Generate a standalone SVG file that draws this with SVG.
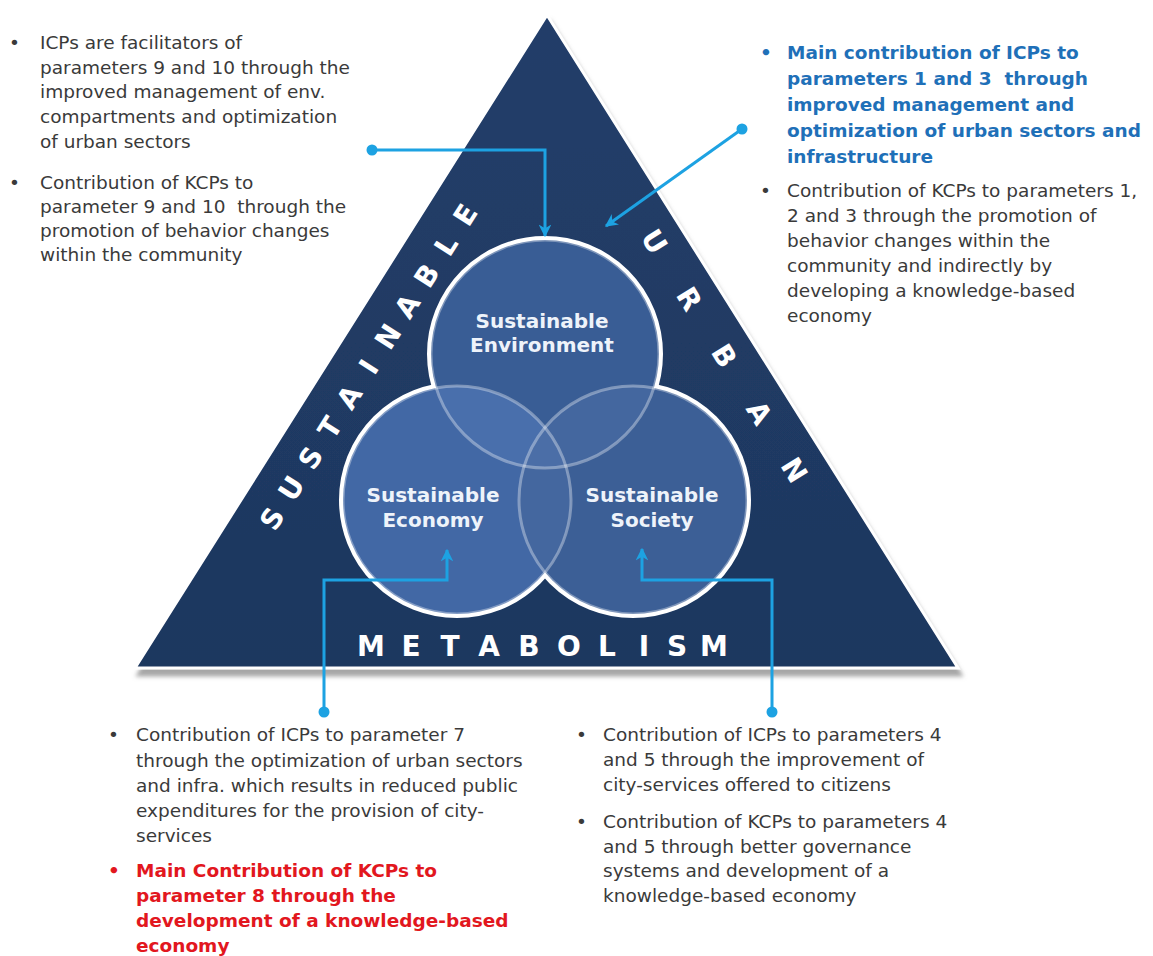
<svg xmlns="http://www.w3.org/2000/svg" width="1153" height="956" viewBox="0 0 1153 956">
<defs>
<style>
.body{font-family:"DejaVu Sans",Verdana,sans-serif;font-size:18.5px;fill:#3a3a3a}
.blue{font-family:"DejaVu Sans",Verdana,sans-serif;font-size:18.5px;font-weight:bold;fill:#1f70b8}
.red{font-family:"DejaVu Sans",Verdana,sans-serif;font-size:18.5px;font-weight:bold;fill:#e2171e}
.side{font-family:"DejaVu Sans",Verdana,sans-serif;font-weight:bold;font-size:28px;fill:#ffffff;text-anchor:middle;dominant-baseline:central}
.ctext{font-family:"DejaVu Sans",Verdana,sans-serif;font-weight:bold;font-size:20px;fill:#eef3fa;text-anchor:middle}
.conn{fill:none;stroke:#1da2e2;stroke-width:3}
.dot{fill:#1da2e2}
.ring{fill:none;stroke:#ffffff;stroke-width:8}
.faint{fill:none;stroke:#ffffff;stroke-opacity:0.35;stroke-width:3}
.glow{fill:#7aa3e0;fill-opacity:0.13}
</style>
<linearGradient id="triG" x1="0" y1="0" x2="0" y2="1">
<stop offset="0" stop-color="#223e69"/>
<stop offset="1" stop-color="#1e375f"/>
</linearGradient>
<filter id="sh" x="-5%" y="-5%" width="110%" height="115%">
<feDropShadow dx="3" dy="7" stdDeviation="2" flood-color="#808080" flood-opacity="0.7"/>
</filter>
<marker id="arr" viewBox="0 0 10 10" refX="9" refY="5" markerWidth="4.3" markerHeight="4.3" orient="auto">
<path d="M0,0 L10,5 L0,10 L3,5 z" fill="#1da2e2"/>
</marker>
</defs>
<rect width="1153" height="956" fill="#ffffff"/>

<g id="triangle">
<polygon points="547,15 135,668 958,668" fill="url(#triG)" stroke="#ffffff" stroke-width="3" filter="url(#sh)"/>
<text class="side" transform="translate(369,367) rotate(-57.5)" x="-180 -144 -108 -72 -36 0 36 72 108 144 180" y="0">SUSTAINABLE</text>
<text class="side" transform="translate(724,356) rotate(58.5)" x="-134 -67 0 67 134" y="0">URBAN</text>
<text class="side" x="371 411 450 489 529 569 607 644 677 714" y="646">METABOLISM</text>
</g>

<g id="circles">
<circle class="ring" cx="545" cy="354" r="114"/>
<circle class="ring" cx="457" cy="500" r="114"/>
<circle class="ring" cx="633" cy="500" r="114"/>
<circle cx="545" cy="354" r="114" fill="#30538a"/>
<circle cx="457" cy="500" r="114" fill="#3a609d"/>
<circle cx="633" cy="500" r="114" fill="#33568c"/>
<circle class="glow" cx="545" cy="354" r="114"/>
<circle class="glow" cx="457" cy="500" r="114"/>
<circle class="glow" cx="633" cy="500" r="114"/>
<circle class="faint" cx="545" cy="354" r="114"/>
<circle class="faint" cx="457" cy="500" r="114"/>
<circle class="faint" cx="633" cy="500" r="114"/>
</g>

<g id="node-environment">
<text class="ctext" x="542" y="328">Sustainable</text>
<text class="ctext" x="542" y="352">Environment</text>
</g>
<g id="node-economy">
<text class="ctext" x="433" y="502">Sustainable</text>
<text class="ctext" x="433" y="527">Economy</text>
</g>
<g id="node-society">
<text class="ctext" x="652" y="502">Sustainable</text>
<text class="ctext" x="652" y="527">Society</text>
</g>

<g id="connectors">
<path class="conn" d="M372,150 H545 V236" marker-end="url(#arr)"/>
<circle class="dot" cx="372" cy="150" r="5.5"/>
<path class="conn" d="M742,129 L606,226" marker-end="url(#arr)"/>
<circle class="dot" cx="742" cy="129" r="5.5"/>
<path class="conn" d="M324,712 V580 H447 V550" marker-end="url(#arr)"/>
<circle class="dot" cx="324" cy="712" r="5.5"/>
<path class="conn" d="M772,712 V580 H642 V549" marker-end="url(#arr)"/>
<circle class="dot" cx="772" cy="712" r="5.5"/>
</g>

<g id="text-top-left">
<text class="body" x="9" y="49">•</text>
<text class="body" x="40" y="49">ICPs are facilitators of</text>
<text class="body" x="40" y="74">parameters 9 and 10 through the</text>
<text class="body" x="40" y="98">improved management of env.</text>
<text class="body" x="40" y="123">compartments and optimization</text>
<text class="body" x="40" y="148">of urban sectors</text>
<text class="body" x="9" y="189">•</text>
<text class="body" x="40" y="189">Contribution of KCPs to</text>
<text class="body" x="40" y="213" xml:space="preserve">parameter 9 and 10  through the</text>
<text class="body" x="40" y="237">promotion of behavior changes</text>
<text class="body" x="40" y="261">within the community</text>
</g>

<g id="text-top-right">
<text class="blue" x="760" y="59">•</text>
<text class="blue" x="787" y="59">Main contribution of ICPs to</text>
<text class="blue" x="787" y="85" xml:space="preserve">parameters 1 and 3  through</text>
<text class="blue" x="787" y="111">improved management and</text>
<text class="blue" x="787" y="137">optimization of urban sectors and</text>
<text class="blue" x="787" y="163">infrastructure</text>
<text class="body" x="760" y="197">•</text>
<text class="body" x="787" y="197">Contribution of KCPs to parameters 1,</text>
<text class="body" x="787" y="222">2 and 3 through the promotion of</text>
<text class="body" x="787" y="247">behavior changes within the</text>
<text class="body" x="787" y="272">community and indirectly by</text>
<text class="body" x="787" y="297">developing a knowledge-based</text>
<text class="body" x="787" y="322">economy</text>
</g>

<g id="text-bottom-left">
<text class="body" x="108" y="741">•</text>
<text class="body" x="136" y="741">Contribution of ICPs to parameter 7</text>
<text class="body" x="136" y="767">through the optimization of urban sectors</text>
<text class="body" x="136" y="792">and infra. which results in reduced public</text>
<text class="body" x="136" y="817">expenditures for the provision of city-</text>
<text class="body" x="136" y="842">services</text>
<text class="red" x="108" y="877">•</text>
<text class="red" x="136" y="877">Main Contribution of KCPs to</text>
<text class="red" x="136" y="902">parameter 8 through the</text>
<text class="red" x="136" y="927">development of a knowledge-based</text>
<text class="red" x="136" y="952">economy</text>
</g>

<g id="text-bottom-right">
<text class="body" x="576" y="741">•</text>
<text class="body" x="603" y="741">Contribution of ICPs to parameters 4</text>
<text class="body" x="603" y="766">and 5 through the improvement of</text>
<text class="body" x="603" y="791">city-services offered to citizens</text>
<text class="body" x="576" y="828">•</text>
<text class="body" x="603" y="828">Contribution of KCPs to parameters 4</text>
<text class="body" x="603" y="853">and 5 through better governance</text>
<text class="body" x="603" y="877">systems and development of a</text>
<text class="body" x="603" y="902">knowledge-based economy</text>
</g>
</svg>
